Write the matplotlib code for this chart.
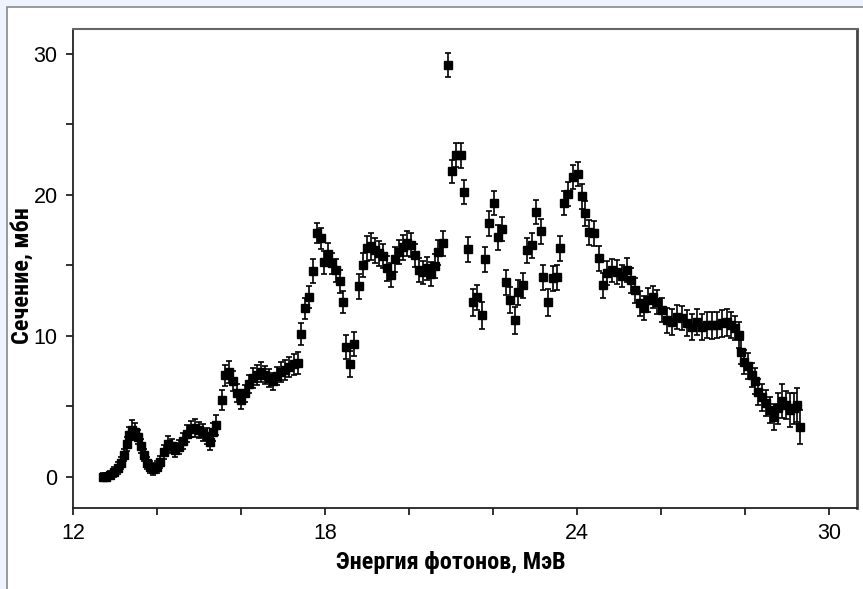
import matplotlib
matplotlib.use("Agg")
import matplotlib.pyplot as plt
from matplotlib.patches import Rectangle
from matplotlib.ticker import MultipleLocator
from matplotlib import font_manager

# photon energy, MeV
energy = [
    12.71, 12.79, 12.88, 12.98, 13.07, 13.14, 13.21, 13.29, 13.33, 13.40,
    13.48, 13.55, 13.62, 13.69, 13.76, 13.83, 13.90, 14.00, 14.07, 14.17,
    14.26, 14.36, 14.43, 14.52, 14.62, 14.71, 14.81, 14.90, 15.00, 15.10,
    15.19, 15.26, 15.33, 15.40, 15.55, 15.62, 15.71, 15.81, 15.90, 16.00,
    16.10, 16.19, 16.29, 16.38, 16.48, 16.57, 16.67, 16.76, 16.86, 16.95,
    17.05, 17.14, 17.26, 17.36,
    17.43, 17.52, 17.62, 17.71, 17.81, 17.90, 17.98, 18.07, 18.17, 18.26,
    18.36, 18.43, 18.50, 18.60, 18.69, 18.81, 18.90, 19.00, 19.10, 19.19,
    19.29, 19.38, 19.48, 19.57, 19.67, 19.76, 19.86, 19.95, 20.05, 20.14,
    20.24, 20.33, 20.43, 20.52, 20.62, 20.69, 20.81, 20.93, 21.02, 21.12,
    21.24, 21.31, 21.40, 21.52, 21.62, 21.74, 21.81, 21.90, 22.02, 22.12,
    22.21, 22.31, 22.40, 22.52, 22.60, 22.71, 22.81, 22.93, 23.02, 23.14,
    23.19, 23.31, 23.43, 23.52, 23.60, 23.69, 23.79, 23.90, 24.02, 24.12,
    24.19, 24.29, 24.40, 24.52, 24.62, 24.71, 24.83, 24.95, 25.07, 25.19,
    25.29, 25.38, 25.50, 25.60, 25.69, 25.81, 25.90, 26.02, 26.14, 26.26,
    26.38, 26.50, 26.62, 26.74, 26.86, 26.98, 27.10, 27.21, 27.33, 27.45,
    27.57, 27.67, 27.76, 27.86, 27.90, 27.98, 28.07, 28.17, 28.24, 28.31,
    28.40, 28.50, 28.60, 28.69, 28.79, 28.88, 28.98, 29.07, 29.17, 29.24,
    29.31,
]

# cross section, mb
sigma = [
    0.00, 0.00, 0.14, 0.35, 0.64, 0.99, 1.56, 2.34, 2.97, 3.33,
    3.19, 2.83, 2.19, 1.56, 0.99, 0.71, 0.57, 0.71, 1.06, 1.77,
    2.34, 2.19, 1.91, 2.12, 2.55, 3.05, 3.40, 3.47, 3.33, 3.12,
    2.90, 2.48, 3.19, 3.68, 5.45, 7.22, 7.43, 6.79, 5.94, 5.45,
    5.94, 6.58, 7.01, 7.22, 7.43, 7.22, 7.01, 6.79, 7.15, 7.43,
    7.57, 7.78, 8.00, 8.07,
    10.12, 11.96, 12.74, 14.58, 17.27, 16.91, 15.22, 15.78, 15.15, 14.65,
    13.87, 12.39, 9.20, 8.00, 9.41, 13.52, 15.00, 16.20, 16.35, 16.07,
    15.85, 15.64, 14.79, 14.30, 15.43, 15.92, 16.28, 16.56, 16.42, 15.71,
    14.65, 14.51, 14.79, 14.37, 14.93, 15.92, 16.56, 29.23, 21.66, 22.79,
    22.79, 20.17, 16.14, 12.39, 12.74, 11.47, 15.43, 17.98, 19.39, 16.99,
    17.55, 13.80, 12.53, 11.11, 13.09, 13.59, 16.07, 16.42, 18.75, 17.41,
    14.15, 12.39, 14.08, 14.15, 16.21, 19.39, 20.03, 21.23, 21.44, 19.89,
    18.68, 17.34, 17.27, 15.50, 13.59, 14.44, 14.65, 14.51, 14.23, 14.65,
    13.94, 13.23, 12.31, 11.96, 12.53, 12.74, 12.39, 11.82, 11.11, 10.97,
    11.32, 11.25, 10.90, 10.62, 10.97, 10.62, 10.76, 10.76, 10.76, 10.90,
    10.97, 10.76, 10.55, 10.05, 8.85, 8.14, 7.86, 7.22, 6.79, 6.02,
    5.66, 5.24, 4.74, 4.25, 4.88, 5.38, 5.10, 4.74, 4.88, 5.10,
    3.54,
]

# error bars, mb
err = [
    0.30, 0.30, 0.30, 0.35, 0.40, 0.40, 0.45, 0.50, 0.60, 0.70,
    0.60, 0.50, 0.50, 0.45, 0.40, 0.40, 0.40, 0.40, 0.45, 0.50,
    0.55, 0.50, 0.50, 0.50, 0.55, 0.60, 0.60, 0.65, 0.60, 0.60,
    0.55, 0.60, 0.65, 0.70, 0.70, 0.75, 0.80, 0.70, 0.65, 0.60,
    0.60, 0.65, 0.70, 0.70, 0.70, 0.65, 0.65, 0.60, 0.65, 0.70,
    0.70, 0.70, 0.75, 0.80,
    0.80, 0.75, 0.80, 0.85, 0.70, 0.75, 0.80, 0.80, 0.75, 0.80,
    0.80, 0.80, 0.85, 0.90, 0.85, 0.90, 0.85, 0.90, 0.95, 0.90,
    0.90, 0.85, 0.90, 0.85, 0.90, 0.85, 0.90, 0.90, 0.85, 0.80,
    0.85, 0.80, 0.80, 0.85, 0.85, 0.90, 0.90, 0.85, 0.80, 0.85,
    0.90, 0.85, 0.90, 0.95, 0.90, 0.95, 0.90, 0.90, 0.85, 0.90,
    0.85, 0.90, 0.90, 0.95, 0.90, 0.90, 0.90, 0.90, 0.85, 0.90,
    0.90, 0.95, 0.90, 0.90, 0.90, 0.85, 0.85, 0.85, 0.85, 0.90,
    0.90, 0.90, 0.90, 0.90, 0.90, 0.85, 0.80, 0.85, 0.80, 0.85,
    0.90, 0.90, 0.90, 0.85, 0.85, 0.80, 0.85, 0.85, 0.90, 0.90,
    0.85, 0.85, 0.90, 0.90, 0.90, 0.90, 0.90, 0.95, 0.90, 0.95,
    0.95, 0.90, 0.85, 0.90, 0.85, 0.85, 0.90, 0.85, 0.90, 0.90,
    0.95, 0.95, 0.90, 0.90, 1.10, 1.20, 1.00, 1.20, 1.10, 1.20,
    1.20,
]

xticks = [12, 18, 24, 30]
yticks = [0, 10, 20, 30]
xlabel = "Энергия фотонов, МэВ"
ylabel = "Сечение, мбн"


def pick_font(names):
    for n in names:
        try:
            font_manager.findfont(n, fallback_to_default=False)
            return n
        except ValueError:
            pass
    return "DejaVu Sans"


tick_font = pick_font(["Liberation Sans", "Arial"])
label_font = pick_font(["Liberation Sans Narrow", "Roboto Condensed", "Liberation Sans"])

fig = plt.figure(figsize=(8.63, 5.89), dpi=100, facecolor="#eef4fd")
# white panel with a thin grey frame, behind the axes
fig.patches.append(Rectangle((7 / 863, -0.05), 1.2, 1 - 7 / 589 + 0.05,
                             transform=fig.transFigure, facecolor="white",
                             edgecolor="#8a8a8a", lw=1.2, zorder=-5))

ax = fig.add_axes([73 / 863, 1 - 508 / 589, 784 / 863, 479 / 589])
ax.set_zorder(2)
ax.errorbar(energy, sigma, yerr=err, fmt="s", color="black", ms=6,
            ecolor="black", elinewidth=1.2, capsize=2.5, capthick=1.2)

ax.set_xlim(12, 30.67)
ax.set_ylim(-2.2, 31.75)
ax.set_xticks(xticks)
ax.set_yticks(yticks)
ax.xaxis.set_minor_locator(MultipleLocator(2))
ax.yaxis.set_minor_locator(MultipleLocator(5))
ax.tick_params(which="both", direction="out", length=5, width=1.3, color="#222")
ax.tick_params(which="major", labelsize=15.5, pad=6)
for lab in ax.get_xticklabels() + ax.get_yticklabels():
    lab.set_fontfamily(tick_font)

for side in ["left", "bottom"]:
    ax.spines[side].set_linewidth(1.3)
    ax.spines[side].set_color("#222")
ax.spines["top"].set_linewidth(1.5)
ax.spines["top"].set_color("#666")
ax.spines["right"].set_linewidth(2)
ax.spines["right"].set_color("#444")

ax.set_xlabel(xlabel, fontsize=17.5, fontweight="bold", family=label_font, labelpad=5)
ax.set_ylabel(ylabel, fontsize=17.5, fontweight="bold", family=label_font, labelpad=0)
ax.xaxis.label.set_x(0.482)
ax.yaxis.label.set_y(0.486)

fig.savefig("out.png", dpi=100, facecolor=fig.get_facecolor())
